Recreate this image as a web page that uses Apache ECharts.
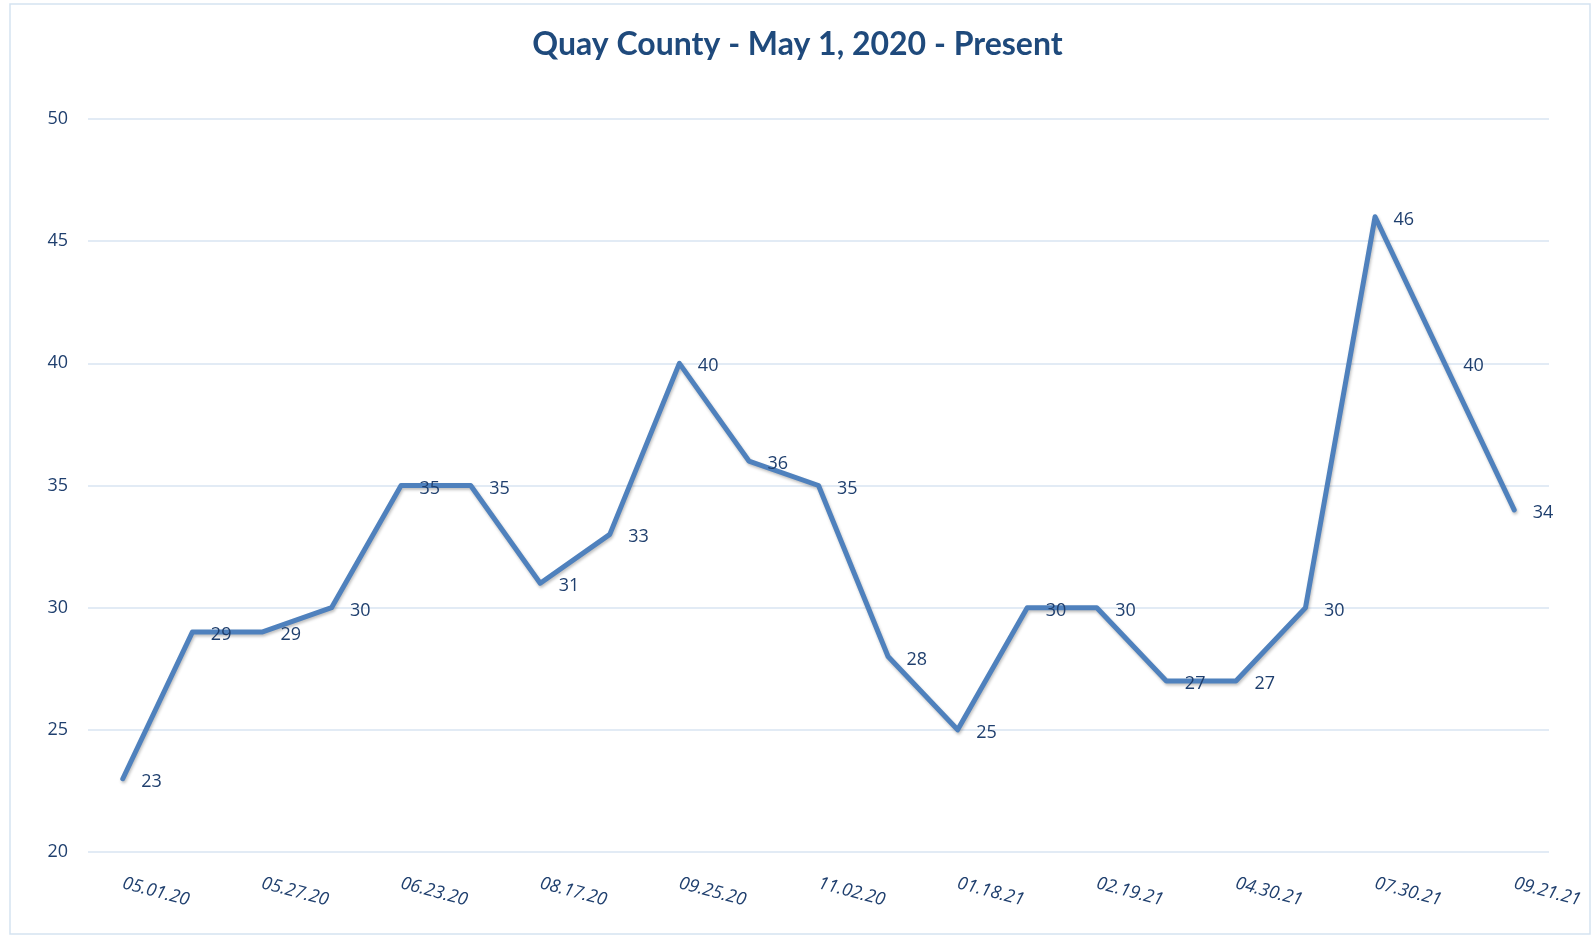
<!DOCTYPE html>
<html>
<head>
<meta charset="utf-8">
<script src="https://cdn.jsdelivr.net/npm/echarts@6/dist/echarts.min.js"></script>
<style>
  html, body { margin: 0; padding: 0; background: #fff; }
  #chart { width: 1595px; height: 939px; }
</style>
</head>
<body>
<div id="chart"></div>
<script>
// only every other date is printed on the axis
var dates = ['05.01.20', '', '05.27.20', '', '06.23.20', '', '08.17.20', '', '09.25.20', '',
  '11.02.20', '', '01.18.21', '', '02.19.21', '', '04.30.21', '', '07.30.21', '', '09.21.21'];
var counts = [23, 29, 29, 30, 35, 35, 31, 33, 40, 36, 35, 28, 25, 30, 30, 27, 27, 30, 46, 40, 34];
var yTicks = [20, 25, 30, 35, 40, 45, 50];

var textColor = '#1f3f6e';
var chart = echarts.init(document.getElementById('chart'));
chart.setOption({
  animation: false,
  title: {
    text: 'Quay County - May 1, 2020 - Present',
    left: 'center',
    top: 24,
    textStyle: { fontFamily: 'Lato', fontWeight: 'bold', fontSize: 32, color: '#1f4a7c' }
  },
  graphic: [{
    type: 'rect',
    shape: { x: 10, y: 4, width: 1580, height: 930 },
    style: { fill: 'none', stroke: '#d5e3f1', lineWidth: 1.5 },
    silent: true
  }],
  grid: { left: 88, right: 46, top: 119, bottom: 87 },
  xAxis: {
    type: 'category',
    data: dates,
    boundaryGap: true,
    axisLine: { show: false },
    axisTick: { show: false },
    axisLabel: {
      interval: 1,
      rotate: -15,
      margin: 31,
      fontFamily: 'Open Sans',
      fontStyle: 'italic',
      fontSize: 18,
      color: textColor
    }
  },
  yAxis: {
    type: 'value',
    min: yTicks[0],
    max: yTicks[yTicks.length - 1],
    interval: 5,
    axisLine: { show: false },
    axisTick: { show: false },
    axisLabel: { margin: 20, fontFamily: 'Open Sans', fontSize: 18, color: textColor },
    splitLine: { lineStyle: { color: '#d9e5f2', width: 1.5 } }
  },
  series: [{
    type: 'line',
    data: counts,
    symbol: 'circle',
    symbolSize: 1,
    itemStyle: { color: 'rgba(0,0,0,0)' },
    lineStyle: {
      color: '#4f81bd', width: 5, cap: 'round', join: 'round',
      shadowColor: 'rgba(0,0,0,0.25)', shadowBlur: 3, shadowOffsetX: 1, shadowOffsetY: 2
    },
    label: {
      show: true,
      position: 'right',
      distance: 18,
      offset: [0, 3],
      fontFamily: 'Open Sans',
      fontSize: 18,
      color: textColor
    }
  }]
});
</script>
</body>
</html>
